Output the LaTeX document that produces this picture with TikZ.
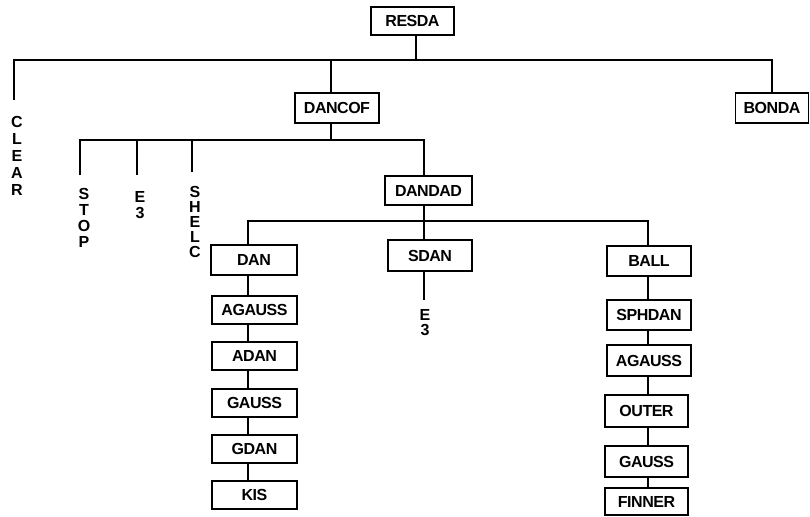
\documentclass[tikz,border=0pt]{standalone}
\usepackage{fontspec}
\setmainfont{Liberation Sans}[LetterSpace=-3]
\begin{document}
\begin{tikzpicture}[x=1pt,y=-1pt,
  box/.style={draw, line width=1.3pt, inner sep=0pt, minimum width=85pt, minimum height=28pt,
    font=\bfseries\fontsize{16}{16}\selectfont},
  vtext/.style={inner sep=0pt, anchor=north, align=center},
  vf/.style={font=\bfseries\fontsize{16}{#1}\selectfont},
  link/.style={line width=1.3pt}]
\useasboundingbox (0,0) rectangle (810,516);
% boxes
\node[box, minimum width=83pt] (resda) at (412.5,21) {RESDA};
\node[box, minimum width=84pt, minimum height=30pt] (dancof) at (337,108) {DANCOF};
\node[box, minimum width=73pt, minimum height=30pt] (bonda) at (772,108) {BONDA};
\node[box, minimum width=87pt, minimum height=29pt] (dandad) at (428.5,190.5) {DANDAD};
\node[box, minimum width=84pt, minimum height=31pt] (sdan) at (430,255.5) {SDAN};
\node[box, minimum width=86pt, minimum height=30pt] (dan) at (254,260) {DAN};
\node[box] (agaussl) at (254.5,310) {AGAUSS};
\node[box] (adan) at (254.5,356) {ADAN};
\node[box] (gaussl) at (254.5,403) {GAUSS};
\node[box] (gdan) at (254.5,449) {GDAN};
\node[box] (kis) at (254.5,495) {KIS};
\node[box, minimum width=84pt, minimum height=30pt] (ball) at (649,261) {BALL};
\node[box, minimum width=84pt, minimum height=30pt] (sphdan) at (649,315) {SPHDAN};
\node[box, minimum width=84pt, minimum height=31pt] (agaussr) at (649,360.5) {AGAUSS};
\node[box, minimum width=83pt, minimum height=32pt] (outer) at (646.5,411) {OUTER};
\node[box, minimum width=83pt, minimum height=31pt] (gaussr) at (646.5,461.5) {GAUSS};
\node[box, minimum width=83pt, minimum height=27pt] (finner) at (646.5,501.5) {FINNER};
% vertical labels
\node[vtext, vf=17] (clear) at (17,116.5) {C\\L\\E\\A\\R};
\node[vtext, vf=16] (stop) at (84,188) {S\\T\\O\\P};
\node[vtext, vf=16] (esa) at (140,191) {E\\3};
\node[vtext, vf=15] (shelc) at (195,186) {S\\H\\E\\L\\C};
\node[vtext, vf=15] (esb) at (425,309) {E\\3};
% junction coordinates
\coordinate (busA) at (416,60);
\coordinate (lxD) at (331,0);
\coordinate (busB) at (331,140);
\coordinate (cxD) at (424,0);
\coordinate (busC) at (424,221);
\coordinate (lx) at (248,0);
\coordinate (rx) at (648,0);
\coordinate (endClear) at (14,100);
\coordinate (endStop) at (80,175);
\coordinate (endEs) at (137,175);
\coordinate (endShelc) at (192,172);
\coordinate (endE3) at (424,300);
% connectors
\draw[link] (resda.south -| busA) -- (busA);
\draw[link] (endClear) |- (bonda.north |- busA) -- (bonda.north);
\draw[link] (dancof.north -| lxD) -- (lxD |- busA);
\draw[link] (dancof.south -| lxD) -- (busB);
\draw[link] (endStop) |- (cxD |- busB) -- (dandad.north -| cxD);
\draw[link] (endEs) -- (endEs |- busB);
\draw[link] (endShelc) -- (endShelc |- busB);
\draw[link] (dandad.south -| cxD) -- (sdan.north -| cxD);
\draw[link] (dan.north -| lx) |- (busC) -| (ball.north -| rx);
\draw[link] (sdan.south -| cxD) -- (endE3);
\draw[link] (dan.south -| lx) -- (agaussl.north -| lx);
\draw[link] (agaussl.south -| lx) -- (adan.north -| lx);
\draw[link] (adan.south -| lx) -- (gaussl.north -| lx);
\draw[link] (gaussl.south -| lx) -- (gdan.north -| lx);
\draw[link] (gdan.south -| lx) -- (kis.north -| lx);
\draw[link] (ball.south -| rx) -- (sphdan.north -| rx);
\draw[link] (sphdan.south -| rx) -- (agaussr.north -| rx);
\draw[link] (agaussr.south -| rx) -- (outer.north -| rx);
\draw[link] (outer.south -| rx) -- (gaussr.north -| rx);
\draw[link] (gaussr.south -| rx) -- (finner.north -| rx);
\end{tikzpicture}
\end{document}
